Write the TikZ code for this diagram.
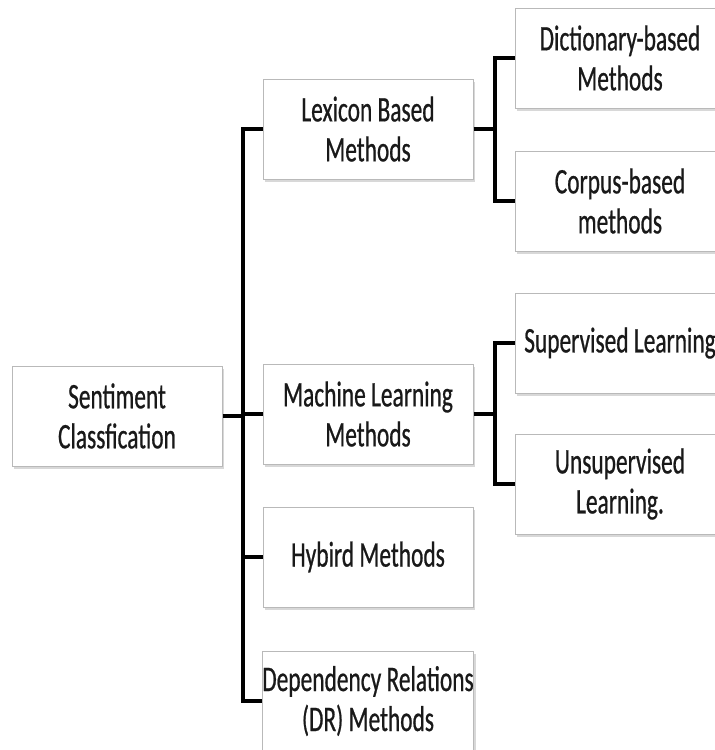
\documentclass[tikz,border=0pt]{standalone}
\usepackage{fontspec}
\setmainfont{Carlito}[FakeStretch=0.65,FakeBold=0.6]
\usetikzlibrary{shadows}
\begin{document}
\begin{tikzpicture}[x=1pt,y=-1pt,
  box/.style={draw=gray!55, line width=1pt, fill=white, minimum width=210pt, minimum height=100pt,
    inner sep=0pt, align=center, text=black!90,
    font=\fontsize{36}{40}\selectfont,
    drop shadow={shadow xshift=2pt, shadow yshift=-3pt, opacity=0.5, fill=gray!60}},
  conn/.style={draw=black, line width=3.2pt}]
\useasboundingbox (0,0) rectangle (715,750);
\clip (0,0) rectangle (715,750);
\node[box] (sent) at (117,416) {Sentiment\\Classfication};
\node[box] (lex) at (368,129) {Lexicon Based\\Methods};
\node[box] (ml) at (368,414) {Machine Learning\\Methods};
\node[box] (hyb) at (368,557) {Hybird Methods};
\node[box] (dr) at (368,701) {Dependency Relations\\(DR) Methods};
\node[box] (dict) at (620,58) {Dictionary-based\\Methods};
\node[box] (corp) at (620,201) {Corpus-based\\methods};
\node[box] (sup) at (620,343) {Supervised Learning};
\node[box] (uns) at (620,484) {Unsupervised\\Learning.};
\coordinate (t) at (243,0);
\coordinate (r) at (495,0);
\draw[conn] (lex.west) -| (t |- dr.west) -- (dr.west);
\draw[conn] (sent.east) -- (sent.east -| t);
\draw[conn] (ml.west) -- (ml.west -| t);
\draw[conn] (hyb.west) -- (hyb.west -| t);
\draw[conn] (dict.west) -| (r |- corp.west) -- (corp.west);
\draw[conn] (lex.east) -- (lex.east -| r);
\draw[conn] (sup.west) -| (r |- uns.west) -- (uns.west);
\draw[conn] (ml.east) -- (ml.east -| r);
\end{tikzpicture}
\end{document}
